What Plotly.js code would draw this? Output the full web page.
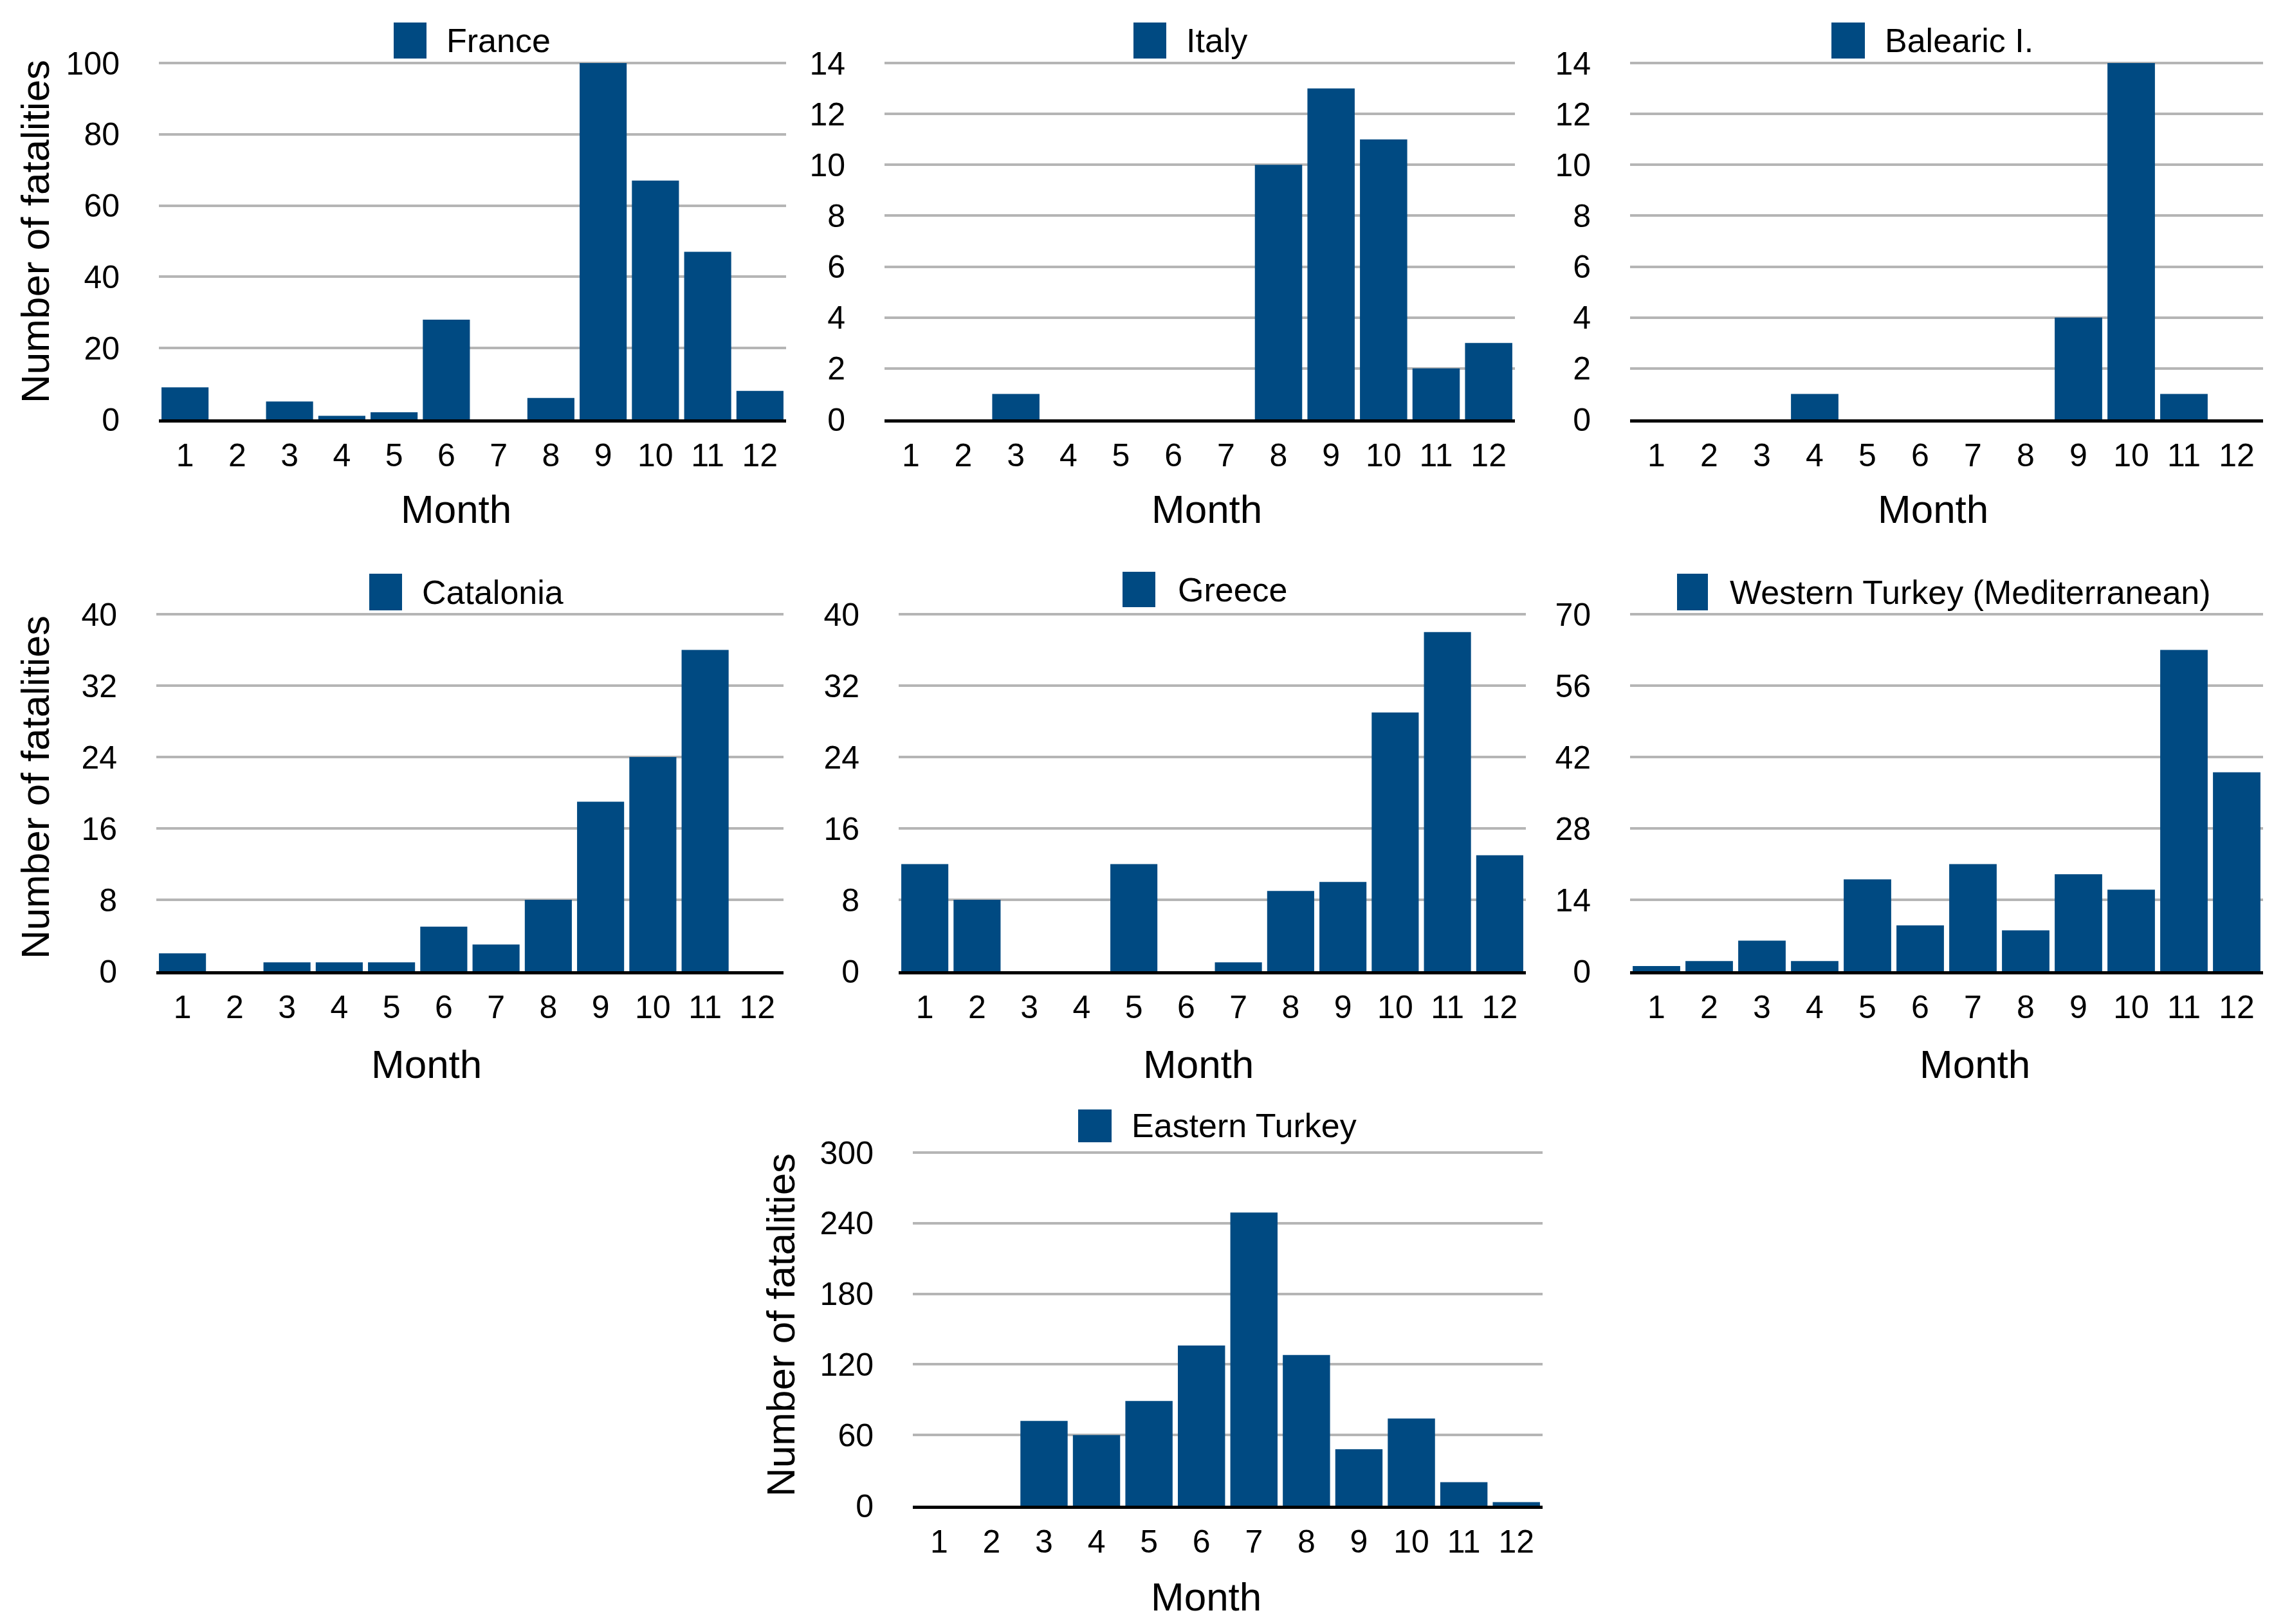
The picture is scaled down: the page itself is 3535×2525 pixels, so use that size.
<!DOCTYPE html>
<html>
<head>
<meta charset="utf-8">
<script src="https://cdn.plot.ly/plotly-3.0.1.min.js"></script>
<style>html,body{margin:0;padding:0;background:#fff;}#chart{width:3535px;height:2525px;}</style>
</head>
<body>
<div id="chart"></div>
<script>
// ---- data ----
const months = [1,2,3,4,5,6,7,8,9,10,11,12];
const monthLabels = ["1","2","3","4","5","6","7","8","9","10","11","12"];
const regionNames = ["France","Italy","Balearic I.","Catalonia","Greece","Western Turkey (Mediterranean)","Eastern Turkey"];
const france        = [9,0,5,1,2,28,0,6,100,67,47,8];
const italy         = [0,0,1,0,0,0,0,10,13,11,2,3];
const balearic      = [0,0,0,1,0,0,0,0,4,14,1,0];
const catalonia     = [2,0,1,1,1,5,3,8,19,24,36,0];
const greece        = [12,8,0,0,12,0,1,9,10,29,38,13];
const westernTurkey = [1,2,6,2,18,9,21,8,19,16,63,39];
const easternTurkey = [0,0,72,60,89,136,249,128,48,74,20,3];
const yMax  = [100,14,14,40,40,70,300];
const yStep = [20,2,2,8,8,14,60];
const xTitle = "Month";
const yTitle = "Number of fatalities";

// ---- layout helpers ----
const W = 3535, H = 2525;
const BAR = "#004a82";
const FONT = "Liberation Sans, Arial, Helvetica, sans-serif";
const series = [france, italy, balearic, catalonia, greece, westernTurkey, easternTurkey];
// plot boxes in px: [left, right, top(max value), bottom(zero)]
const boxes = [
  [247,1222,98,652],
  [1375,2355,98,652],
  [2534,3518,98,652],
  [243,1218,955,1510],
  [1397,2372,955,1510],
  [2534,3518,955,1510],
  [1419,2398,1792,2341]
];
// legend key boxes in px: [left, top, right, bottom, text x]
const keys = [
  [612,35,663,91,692],
  [1762,35,1813,91,1842],
  [2847,35,2899,91,2928],
  [574,892,625,949,654],
  [1745,889,1796,944,1829],
  [2607,892,2655,949,2687],
  [1676,1725,1728,1776,1757]
];
// axis-title centres in px
const xTitlePos = [[709,791],[1876,791],[3005,791],[663,1654],[1863,1654],[3070,1654],[1875,2482]];
const yTitlePos = [[54,360],null,null,[54,1224],null,null,[1213,2060]];
const PAD = 0.012;

const traces = [];
const layout = {
  width: W, height: H,
  margin: {l:0,r:0,t:0,b:0},
  paper_bgcolor: "#fff", plot_bgcolor: "#fff",
  showlegend: false,
  bargap: 0.1,
  font: {family: FONT, color: "#000", size: 50},
  shapes: [], annotations: []
};

series.forEach((vals, i) => {
  const n = i + 1;
  const xa = n === 1 ? "x" : "x" + n;
  const ya = n === 1 ? "y" : "y" + n;
  traces.push({
    type: "bar", x: months, y: vals, name: regionNames[i],
    xaxis: xa, yaxis: ya, marker: {color: BAR, line: {width: 0}},
    hoverinfo: "x+y"
  });
  const b = boxes[i];
  const topPx = b[3] - (b[3] - b[2]) * (1 + PAD);
  const xk = n === 1 ? "xaxis" : "xaxis" + n;
  const yk = n === 1 ? "yaxis" : "yaxis" + n;
  layout[xk] = {
    domain: [b[0]/W, b[1]/W], anchor: ya,
    range: [0.5, 12.5], tickmode: "array", tickvals: months, ticktext: monthLabels,
    showgrid: false, zeroline: false,
    showline: true, linecolor: "#000", linewidth: 5,
    ticks: "outside", ticklen: 8, tickcolor: "rgba(0,0,0,0)",
    tickfont: {family: FONT, size: 50, color: "#000"},
    fixedrange: true
  };
  layout[yk] = {
    domain: [1 - b[3]/H, 1 - topPx/H], anchor: xa,
    range: [0, yMax[i] * (1 + PAD)], tickmode: "linear", tick0: 0, dtick: yStep[i],
    showgrid: true, gridcolor: "#b5b5b5", gridwidth: 4,
    zeroline: false, showline: false,
    ticks: "outside", ticklen: 50, tickcolor: "rgba(0,0,0,0)",
    tickfont: {family: FONT, size: 50, color: "#000"},
    fixedrange: true
  };
  const k = keys[i];
  layout.shapes.push({
    type: "rect", xref: "paper", yref: "paper",
    x0: k[0]/W, x1: k[2]/W, y0: 1 - k[3]/H, y1: 1 - k[1]/H,
    fillcolor: BAR, line: {width: 0}
  });
  layout.annotations.push({
    xref: "paper", yref: "paper", x: k[4]/W, y: 1 - ((k[1]+k[3])/2)/H,
    xanchor: "left", yanchor: "middle", showarrow: false,
    text: regionNames[i], font: {family: FONT, size: 52, color: "#000"}
  });
  const xt = xTitlePos[i];
  layout.annotations.push({
    xref: "paper", yref: "paper", x: xt[0]/W, y: 1 - xt[1]/H,
    xanchor: "center", yanchor: "middle", showarrow: false,
    text: xTitle, font: {family: FONT, size: 62, color: "#000"}
  });
  const yt = yTitlePos[i];
  if (yt) {
    layout.annotations.push({
      xref: "paper", yref: "paper", x: yt[0]/W, y: 1 - yt[1]/H,
      xanchor: "center", yanchor: "middle", showarrow: false, textangle: -90,
      text: yTitle, font: {family: FONT, size: 62, color: "#000"}
    });
  }
});

Plotly.newPlot("chart", traces, layout, {staticPlot: true, displayModeBar: false});
</script>
</body>
</html>
